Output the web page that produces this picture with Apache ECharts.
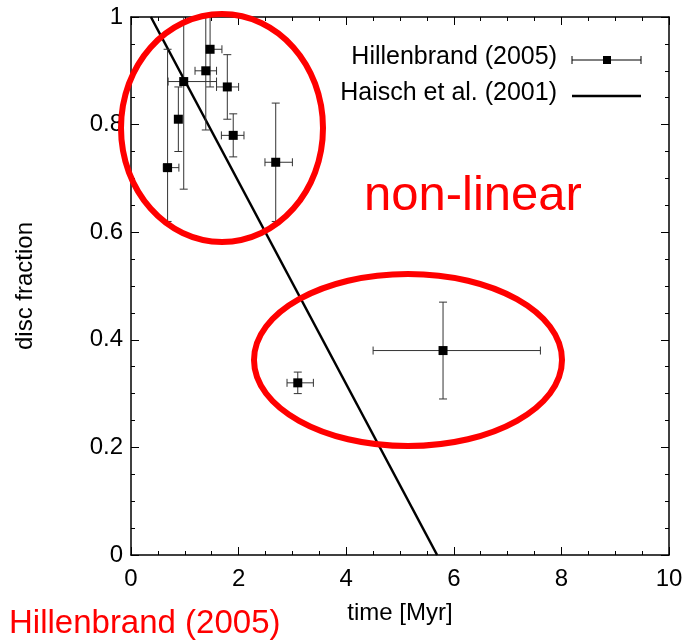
<!DOCTYPE html>
<html>
<head>
<meta charset="utf-8">
<script src="https://cdn.jsdelivr.net/npm/echarts@6/dist/echarts.min.js"></script>
<style>
html, body { margin: 0; padding: 0; background: #fff; }
#chart { width: 686px; height: 642px; }
</style>
</head>
<body>
<div id="chart"></div>
<script>
// Hillenbrand (2005): time, fraction, time low, time high, fraction low, fraction high
var hbTime = [1.47, 1.39, 0.98, 1.79, 0.88, 1.90, 0.68, 2.69, 3.10, 5.80];
var hbFrac = [0.94, 0.90, 0.88, 0.87, 0.81, 0.78, 0.72, 0.73, 0.32, 0.38];
var hbTimeLo = [1.40, 1.19, 0.69, 1.59, 0.88, 1.68, 0.60, 2.49, 2.90, 4.50];
var hbTimeHi = [1.69, 1.59, 1.59, 2.00, 0.88, 2.10, 0.89, 3.00, 3.39, 7.61];
var hbFracLo = [0.87, 0.79, 0.68, 0.81, 0.75, 0.74, 0.62, 0.62, 0.30, 0.29];
var hbFracHi = [1.05, 1.05, 1.05, 0.93, 0.87, 0.82, 0.94, 0.84, 0.34, 0.47];

// Haisch et al. (2001) fit line end points
var haischTime = [0.37, 5.69];
var haischFrac = [1.0, 0.0];

var xTicks = [0, 2, 4, 6, 8, 10];
var yTicks = [0, 0.2, 0.4, 0.6, 0.8, 1];

var FONT = "'Liberation Sans', Arial, sans-serif";

var chart = echarts.init(document.getElementById('chart'));

var errData = hbTime.map(function (t, i) {
    return [t, hbFrac[i], hbTimeLo[i], hbTimeHi[i], hbFracLo[i], hbFracHi[i]];
});
var ptData = hbTime.map(function (t, i) { return [t, hbFrac[i]]; });
var lineData = haischTime.map(function (t, i) { return [t, haischFrac[i]]; });

function renderErr(params, api) {
    var x = api.value(0), y = api.value(1);
    var xl = api.value(2), xh = api.value(3), yl = api.value(4), yh = api.value(5);
    var cap = 4;
    var st = { stroke: '#333', lineWidth: 1 };
    var kids = [];
    var top = api.coord([x, Math.min(yh, 1)]);
    var bot = api.coord([x, yl]);
    kids.push({ type: 'line', shape: { x1: top[0], y1: top[1], x2: bot[0], y2: bot[1] }, style: st });
    if (yh <= 1) {
        kids.push({ type: 'line', shape: { x1: top[0] - cap, y1: top[1], x2: top[0] + cap, y2: top[1] }, style: st });
    }
    kids.push({ type: 'line', shape: { x1: bot[0] - cap, y1: bot[1], x2: bot[0] + cap, y2: bot[1] }, style: st });
    if (xh > xl) {
        var l = api.coord([xl, y]), r = api.coord([xh, y]);
        kids.push({ type: 'line', shape: { x1: l[0], y1: l[1], x2: r[0], y2: r[1] }, style: st });
        kids.push({ type: 'line', shape: { x1: l[0], y1: l[1] - cap, x2: l[0], y2: l[1] + cap }, style: st });
        kids.push({ type: 'line', shape: { x1: r[0], y1: r[1] - cap, x2: r[0], y2: r[1] + cap }, style: st });
    }
    return { type: 'group', children: kids };
}

function frameAxis(extra) {
    var a = {
        type: 'value',
        axisLine: { show: true, onZero: false, lineStyle: { color: '#000', width: 1.5 } },
        axisTick: { show: true, inside: true, length: 8, lineStyle: { color: '#000', width: 1 } },
        minorTick: { show: true, splitNumber: 4, length: 4, lineStyle: { color: '#000', width: 1 } },
        splitLine: { show: false },
        axisLabel: { color: '#000', fontSize: 24, fontFamily: FONT }
    };
    for (var k in extra) a[k] = extra[k];
    return a;
}

var option = {
    animation: false,
    grid: { left: 131, right: 17, top: 17, bottom: 87 },
    xAxis: [
        frameAxis({
            position: 'bottom', min: xTicks[0], max: xTicks[xTicks.length - 1], interval: 2,
            name: 'time [Myr]', nameLocation: 'middle', nameGap: 46,
            nameTextStyle: { color: '#000', fontSize: 24, fontFamily: FONT },
            axisLabel: { color: '#000', fontSize: 24, fontFamily: FONT, margin: 12 }
        }),
        frameAxis({
            position: 'top', min: xTicks[0], max: xTicks[xTicks.length - 1], interval: 2,
            axisLabel: { show: false }
        })
    ],
    yAxis: [
        frameAxis({
            position: 'left', min: yTicks[0], max: yTicks[yTicks.length - 1], interval: 0.2,
            name: 'disc fraction', nameLocation: 'middle', nameGap: 94,
            nameTextStyle: { color: '#000', fontSize: 24, fontFamily: FONT },
            axisLabel: { color: '#000', fontSize: 24, fontFamily: FONT, margin: 8 }
        }),
        frameAxis({
            position: 'right', min: yTicks[0], max: yTicks[yTicks.length - 1], interval: 0.2,
            axisLabel: { show: false }
        })
    ],
    series: [{
        name: 'Haisch et al. (2001)', type: 'line', data: lineData,
        symbol: 'none', lineStyle: { color: '#000', width: 2.5 }, z: 3
    }, {
        name: 'Hillenbrand (2005) err', type: 'custom', data: errData,
        renderItem: renderErr, z: 4
    }, {
        name: 'Hillenbrand (2005)', type: 'scatter', data: ptData,
        symbol: 'rect', symbolSize: 9, itemStyle: { color: '#000', opacity: 1 }, z: 5
    }, {
        // keeps the mirrored top / right axes alive
        type: 'line', xAxisIndex: 1, yAxisIndex: 1, data: [], silent: true
    }],
    graphic: [
        // legend
        { type: 'text', right: 686 - 557, top: 45, style: { text: 'Hillenbrand (2005)', font: '25px ' + FONT, fill: '#000' } },
        { type: 'line', shape: { x1: 572, y1: 60, x2: 641, y2: 60 }, style: { stroke: '#000', lineWidth: 1 } },
        { type: 'line', shape: { x1: 572, y1: 56, x2: 572, y2: 64 }, style: { stroke: '#000', lineWidth: 1 } },
        { type: 'line', shape: { x1: 641, y1: 56, x2: 641, y2: 64 }, style: { stroke: '#000', lineWidth: 1 } },
        { type: 'rect', shape: { x: 603, y: 56, width: 8, height: 8 }, style: { fill: '#000' } },
        { type: 'text', right: 686 - 557, top: 81, style: { text: 'Haisch et al. (2001)', font: '25px ' + FONT, fill: '#000' } },
        { type: 'line', shape: { x1: 572, y1: 96, x2: 641, y2: 96 }, style: { stroke: '#000', lineWidth: 2.7 } },
        // annotations
        { type: 'ellipse', shape: { cx: 222, cy: 128, rx: 101, ry: 114 }, style: { fill: 'none', stroke: '#ff0000', lineWidth: 6 }, z: 10 },
        { type: 'ellipse', shape: { cx: 408, cy: 360, rx: 154, ry: 86 }, style: { fill: 'none', stroke: '#ff0000', lineWidth: 6 }, z: 10 },
        { type: 'text', left: 364, top: 172, style: { text: 'non-linear', font: '49px ' + FONT, fill: '#ff0000' } },
        { type: 'text', left: 9, top: 607, style: { text: 'Hillenbrand (2005)', font: '33px ' + FONT, fill: '#ff0000' } }
    ]
};

chart.setOption(option);
</script>
</body>
</html>
